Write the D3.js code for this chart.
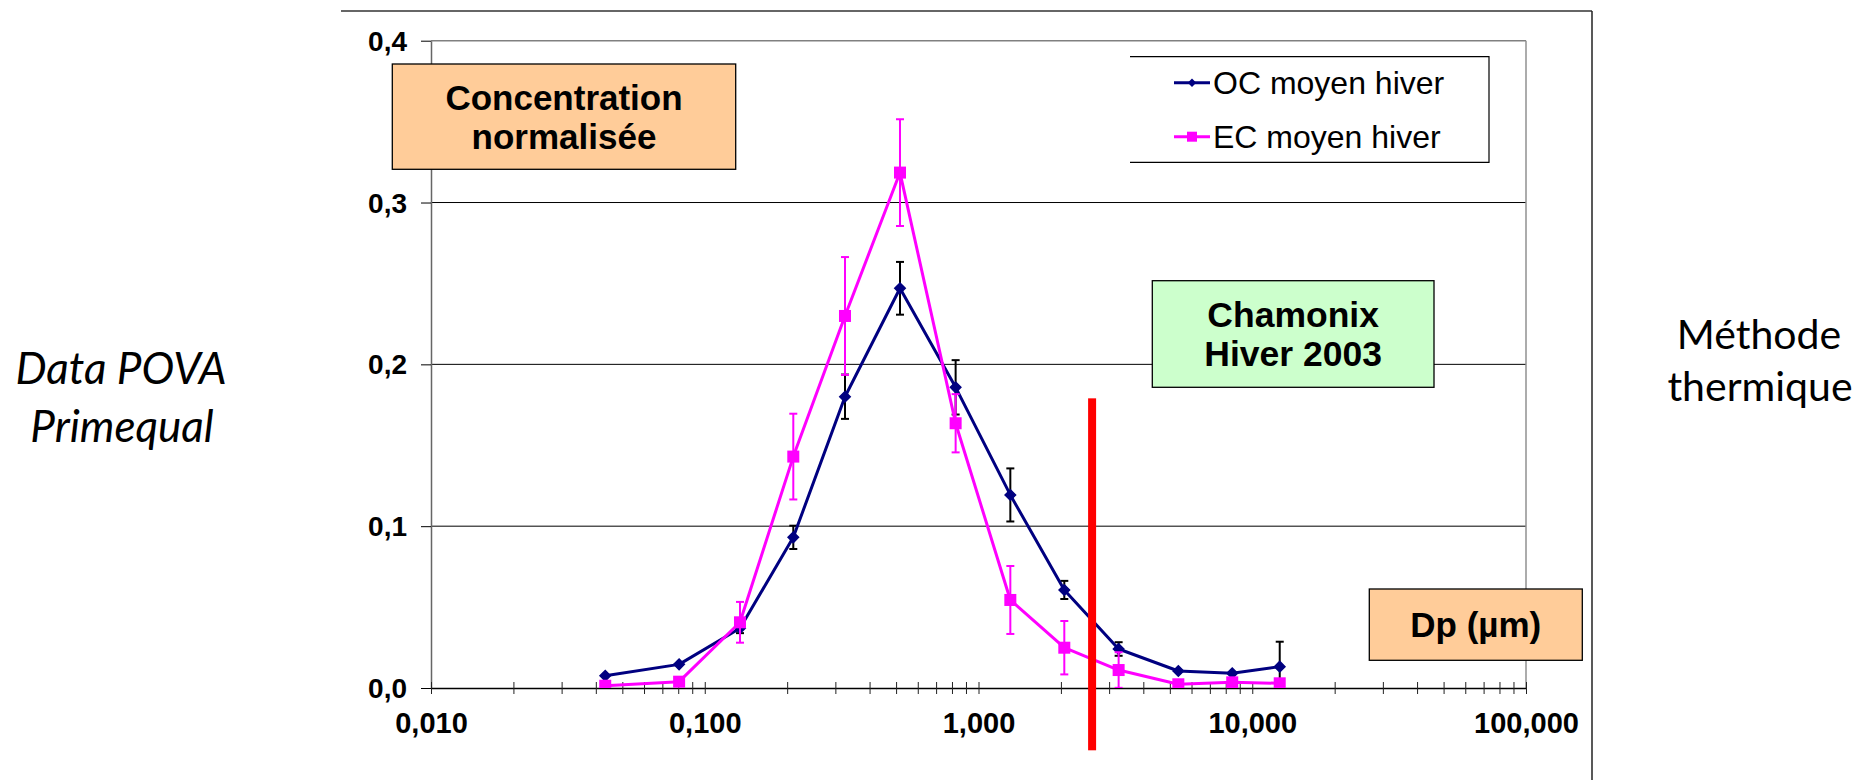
<!DOCTYPE html>
<html>
<head>
<meta charset="utf-8">
<script src="https://cdn.jsdelivr.net/npm/d3@7"></script>
<style>
  html, body { margin: 0; padding: 0; background: #fff; }
  svg { display: block; }
</style>
</head>
<body>
<svg id="chart" width="1867" height="780"></svg>
<script>
// ---- Data ----
const diameters = [0.0433, 0.0806, 0.1345, 0.2106, 0.3253, 0.5167, 0.825, 1.307, 2.058, 3.25, 5.37, 8.45, 12.6];
const ocMean = [0.0076, 0.0146, 0.0369, 0.0931, 0.180, 0.247, 0.1858, 0.1193, 0.0606, 0.0241, 0.0105, 0.0091, 0.0132];
const ocErr  = [0, 0, 0.003, 0.0072, 0.0137, 0.0163, 0.0168, 0.0164, 0.0056, 0.0042, 0, 0, 0.0154];
const ecMean = [0.0014, 0.0039, 0.0406, 0.1430, 0.2299, 0.3185, 0.1636, 0.0544, 0.0249, 0.0111, 0.0023, 0.0035, 0.0029];
const ecErr  = [0, 0, 0.0126, 0.0265, 0.0364, 0.033, 0.018, 0.021, 0.0165, 0.011, 0, 0, 0];
const seriesNames = ["OC moyen hiver", "EC moyen hiver"];
const xTickValues = [0.01, 0.1, 1, 10, 100];
const xTickLabels = ["0,010", "0,100", "1,000", "10,000", "100,000"];
const yTickValues = [0, 0.1, 0.2, 0.3, 0.4];
const yTickLabels = ["0,0", "0,1", "0,2", "0,3", "0,4"];
const cutoffDp = 2.6;

const svg = d3.select("#chart");
const FONT = "'Liberation Sans', Arial, sans-serif";
const plot = { left: 431, right: 1526, top: 40.7, bottom: 688 };

const x = d3.scaleLog().domain([0.01, 100]).range([plot.left, plot.right]);
const y = d3.scaleLinear().domain([0, 0.4]).range([plot.bottom, plot.top]);

// outer chart frame (top + right visible)
svg.append("line").attr("x1", 341).attr("x2", 1592).attr("y1", 11).attr("y2", 11)
  .attr("stroke", "#333").attr("stroke-width", 1.5);
svg.append("line").attr("x1", 1592).attr("x2", 1592).attr("y1", 11).attr("y2", 780)
  .attr("stroke", "#222").attr("stroke-width", 1.5);

// gridlines
svg.append("g").selectAll("line").data(yTickValues.filter(v => v > 0 && v < 0.4)).join("line")
  .attr("x1", plot.left).attr("x2", plot.right)
  .attr("y1", d => y(d)).attr("y2", d => y(d))
  .attr("stroke", "#000").attr("stroke-width", 1);

// plot area border (top and right, gray)
svg.append("line").attr("x1", plot.left).attr("x2", plot.right).attr("y1", plot.top).attr("y2", plot.top)
  .attr("stroke", "#808080").attr("stroke-width", 1.5);
svg.append("line").attr("x1", plot.right).attr("x2", plot.right).attr("y1", plot.top).attr("y2", plot.bottom)
  .attr("stroke", "#909090").attr("stroke-width", 1.5);

// Y axis
const yAxis = d3.axisLeft(y).tickValues(yTickValues)
  .tickFormat((d, i) => yTickLabels[i]).tickSizeInner(10).tickSizeOuter(0).tickPadding(14);
const gy = svg.append("g").attr("transform", `translate(${plot.left},0)`).call(yAxis);
gy.select(".domain").attr("stroke", "#666").attr("stroke-width", 1.5);
gy.selectAll(".tick line").attr("stroke", "#000");
gy.selectAll(".tick text").attr("font-family", FONT).attr("font-weight", "bold")
  .attr("font-size", 28).attr("fill", "#000").attr("dy", "0.34em");

// X axis (log) with major and minor ticks crossing the axis
const minorTicks = [];
for (let e = -2; e < 2; e++) for (let m = 2; m <= 9; m++) minorTicks.push(m * Math.pow(10, e));
const xAxis = d3.axisBottom(x).tickValues(xTickValues.concat(minorTicks))
  .tickFormat(d => { const i = xTickValues.indexOf(d); return i >= 0 ? xTickLabels[i] : ""; })
  .tickSizeOuter(0);
const gx = svg.append("g").attr("transform", `translate(0,${plot.bottom})`).call(xAxis);
gx.select(".domain").attr("stroke", "#000").attr("stroke-width", 1.5);
gx.selectAll(".tick line").attr("y1", -6).attr("y2", 6).attr("stroke", "#222").attr("stroke-width", 1);
gx.selectAll(".tick text").attr("font-family", FONT).attr("font-weight", "bold")
  .attr("font-size", 29).attr("fill", "#000").attr("y", 45).attr("dy", 0);

// clip for data
svg.append("clipPath").attr("id", "plotclip").append("rect")
  .attr("x", plot.left).attr("y", plot.top - 20).attr("width", plot.right - plot.left).attr("height", plot.bottom - plot.top + 20);

const series = [
  { name: seriesNames[0], mean: ocMean, err: ocErr, color: "#000080", errColor: "#000", errWidth: 2, marker: "diamond" },
  { name: seriesNames[1], mean: ecMean, err: ecErr, color: "#FF00FF", errColor: "#FF00FF", errWidth: 2, marker: "square" }
];

const dataLayer = svg.append("g").attr("clip-path", "url(#plotclip)");
const line = d3.line().x(d => x(d.d)).y(d => y(d.v));
const diamondType = d3.symbolDiamond2 || d3.symbolDiamond;

series.forEach(s => {
  const pts = diameters.map((d, i) => ({ d, v: s.mean[i], e: s.err[i] }));
  const g = dataLayer.append("g");
  // error bars
  pts.filter(p => p.e > 0).forEach(p => {
    const lo = Math.max(0, p.v - p.e), hi = p.v + p.e;
    const cx = x(p.d);
    g.append("line").attr("x1", cx).attr("x2", cx).attr("y1", y(hi)).attr("y2", y(lo))
      .attr("stroke", s.errColor).attr("stroke-width", s.errWidth);
    g.append("line").attr("x1", cx - 4).attr("x2", cx + 4).attr("y1", y(hi)).attr("y2", y(hi))
      .attr("stroke", s.errColor).attr("stroke-width", s.errWidth);
    if (p.v - p.e > 0)
      g.append("line").attr("x1", cx - 4).attr("x2", cx + 4).attr("y1", y(lo)).attr("y2", y(lo))
        .attr("stroke", s.errColor).attr("stroke-width", s.errWidth);
  });
  g.append("path").datum(pts).attr("d", line).attr("fill", "none")
    .attr("stroke", s.color).attr("stroke-width", 3).attr("stroke-linejoin", "round");
  if (s.marker === "diamond") {
    g.selectAll("path.mk").data(pts).join("path").attr("class", "mk")
      .attr("d", d3.symbol().type(diamondType).size(70)())
      .attr("transform", d => `translate(${x(d.d)},${y(d.v)})`)
      .attr("fill", s.color).attr("stroke", s.color).attr("stroke-width", 1.5).attr("stroke-linejoin", "miter");
  } else {
    g.selectAll("rect.mk").data(pts).join("rect").attr("class", "mk")
      .attr("x", d => x(d.d) - 6).attr("y", d => y(d.v) - 6)
      .attr("width", 12).attr("height", 12).attr("fill", s.color);
  }
});

// red cut-off line
svg.append("rect")
  .attr("x", x(cutoffDp) - 4).attr("width", 8)
  .attr("y", y(0.179)).attr("height", y(-0.0385) - y(0.179))
  .attr("fill", "#FF0000");

// legend
const lg = svg.append("g");
lg.append("rect").attr("x", 1130).attr("y", 56.7).attr("width", 359).attr("height", 105.6).attr("fill", "#fff");
lg.append("path").attr("d", "M1130,56.7 H1489 V162.3 H1130").attr("fill", "none").attr("stroke", "#000").attr("stroke-width", 1.2);
series.forEach((s, i) => {
  const ly = 82.7 + i * 54;
  lg.append("line").attr("x1", 1174).attr("x2", 1210).attr("y1", ly).attr("y2", ly)
    .attr("stroke", s.color).attr("stroke-width", 3);
  if (s.marker === "diamond") {
    lg.append("path").attr("d", d3.symbol().type(diamondType).size(45)())
      .attr("transform", `translate(1192,${ly})`).attr("fill", s.color);
  } else {
    lg.append("rect").attr("x", 1187).attr("y", ly - 5).attr("width", 10).attr("height", 10).attr("fill", s.color);
  }
  lg.append("text").attr("x", 1213).attr("y", ly + 11).attr("font-family", FONT)
    .attr("font-size", 32).attr("fill", "#000").text(s.name);
});

// annotation boxes
function box(x0, y0, w, h, fill, lines, baselines, fs) {
  const g = svg.append("g");
  g.append("rect").attr("x", x0).attr("y", y0).attr("width", w).attr("height", h)
    .attr("fill", fill).attr("stroke", "#000").attr("stroke-width", 1.3);
  lines.forEach((t, i) => {
    g.append("text").attr("x", x0 + w / 2).attr("y", baselines[i]).attr("text-anchor", "middle")
      .attr("font-family", FONT).attr("font-weight", "bold").attr("font-size", fs)
      .attr("fill", "#000").text(t);
  });
}
box(392.3, 64, 343.4, 105.3, "#FFCC99", ["Concentration", "normalisée"], [110, 148.5], 35);
box(1152.3, 280.7, 281.7, 106.6, "#CCFFCC", ["Chamonix", "Hiver 2003"], [327, 366], 35.5);
box(1369.3, 589, 213, 71.3, "#FFCC99", ["Dp (µm)"], [637], 35);

// side texts
const SIDE = "Lato, 'Open Sans', sans-serif";
svg.append("text").attr("x", 121).attr("y", 384).attr("text-anchor", "middle")
  .attr("font-family", SIDE).attr("font-style", "italic").attr("font-size", 44).text("Data POVA");
svg.append("text").attr("x", 122).attr("y", 441.7).attr("text-anchor", "middle")
  .attr("font-family", SIDE).attr("font-style", "italic").attr("font-size", 44).text("Primequal");
svg.append("text").attr("x", 1759).attr("y", 349.3).attr("text-anchor", "middle")
  .attr("font-family", SIDE).attr("font-size", 41).text("Méthode");
svg.append("text").attr("x", 1760).attr("y", 400.7).attr("text-anchor", "middle")
  .attr("font-family", SIDE).attr("font-size", 41).text("thermique");
</script>
</body>
</html>
